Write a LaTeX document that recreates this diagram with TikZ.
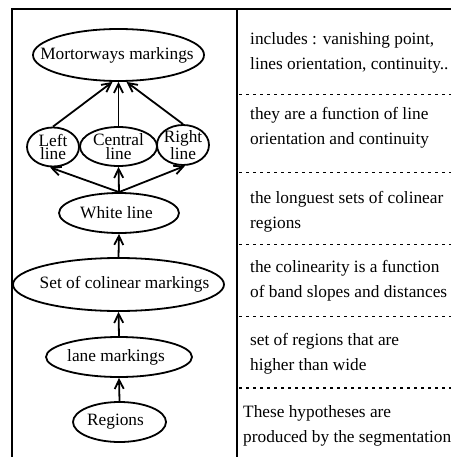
\documentclass[tikz,border=0pt]{standalone}
\usepackage{fontspec}
\setmainfont{Liberation Serif}
\usetikzlibrary{shapes.geometric,arrows.meta}
\begin{document}
\begin{tikzpicture}[x=1pt,y=-1pt,
  ell/.style={draw, ellipse, line width=1.8pt, inner sep=0pt},
  txt/.style={inner sep=0pt, align=center, font=\fontsize{17.3}{13.5}\selectfont},
  arr/.style={line width=1.8pt, -{Straight Barb[length=9pt,width=9pt,line width=1.8pt]}},
  frame/.style={line width=2pt},
  sep/.style={line width=1.5pt, dash pattern=on 3pt off 4pt},
  desc/.style={anchor=base west, inner sep=0pt, align=left,
    font=\fontsize{17.3}{25}\selectfont}]
\useasboundingbox (0,0) rectangle (451,457);
\fill[white] (0,0) rectangle (451,457);
% frame
\draw[frame] (12,457) -- (12,9.5) -- (451,9.5);
\draw[frame] (236.5,9.5) -- (236.5,457);
\foreach \yy in {94.5,172.5,244.5,316.5,388} \draw[sep] (239,\yy) -- (451,\yy);
% ellipses
\node[ell, minimum width=171pt, minimum height=52pt] (mort) at (118.5,55) {};
\node[ell, minimum width=52pt, minimum height=39pt] (left) at (53,147) {};
\node[ell, minimum width=77pt, minimum height=39pt] (central) at (118.5,146.5) {};
\node[ell, minimum width=52pt, minimum height=40pt] (right) at (183,145) {};
\node[ell, minimum width=120pt, minimum height=40pt] (white) at (119,213) {};
\node[ell, minimum width=211pt, minimum height=53pt] (set) at (118.5,284.5) {};
\node[ell, minimum width=146pt, minimum height=40pt] (lane) at (119,357) {};
\node[ell, minimum width=93pt, minimum height=40pt] (reg) at (119.5,422) {};
% texts
\node[txt] (mortt) at ([xshift=-1.5pt]mort.center) {Mortorways markings};
\node[txt] (leftt) at (left.center) {Left\\line};
\node[txt] (centralt) at (central.center) {Central\\line};
\node[txt] (rightt) at (right.center) {Right\\line};
\node[txt] (whitet) at ([xshift=-2.5pt]white.center) {White line};
\node[txt] (sett) at ([xshift=6pt]set.center) {Set of colinear markings};
\node[txt] (lanet) at ([xshift=-3pt]lane.center) {lane markings};
\node[txt] (regt) at ([xshift=-4pt]reg.center) {Regions};
% connectors
\draw[arr] (left.north) -- ([xshift=-6pt]mort.south);
\draw[arr] (central.north) -- (mort.south);
\draw[arr] (right.north) -- ([xshift=8pt]mort.south);
\draw[arr] (white.north) -- ([xshift=-3pt]left.south);
\draw[arr] (white.north) -- (central.south);
\draw[arr] (white.north) -- ([xshift=2pt]right.south);
\draw[arr] (set.north) -- (white.south);
\draw[arr] (lane.north) -- (set.south);
\draw[arr] (reg.north) -- (lane.south);
% descriptions (anchored at baseline of last line)
\node[desc] (d1) at (250,70) {includes : vanishing point,\\lines orientation, continuity..};
\node[desc] (d2) at (250,145) {they are a function of line\\orientation and continuity};
\node[desc] (d3) at (250,228) {the longuest sets of colinear\\regions};
\node[desc] (d4) at (250,297) {the colinearity is a function\\of band slopes and distances};
\node[desc] (d5) at (250,370) {set of regions that are\\higher than wide};
\node[desc] (d6) at (243,442) {These hypotheses are\\produced by the segmentation};
\end{tikzpicture}
\end{document}
